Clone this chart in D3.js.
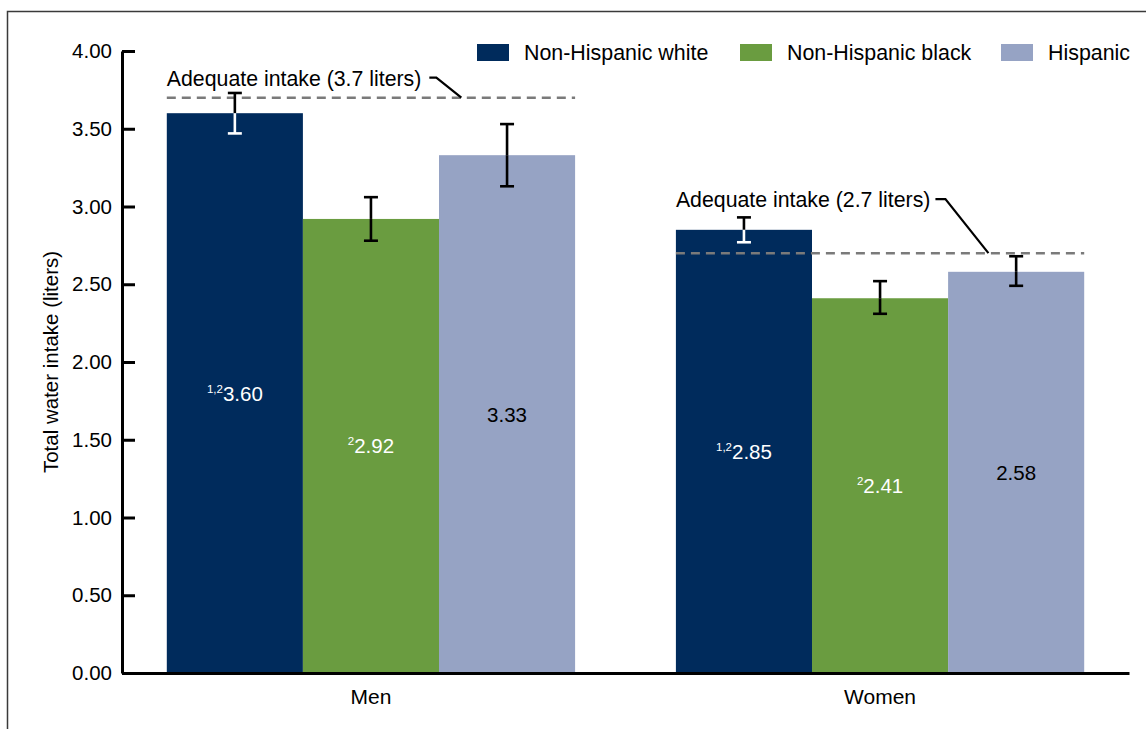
<!DOCTYPE html>
<html><head><meta charset="utf-8">
<script src="https://cdn.jsdelivr.net/npm/d3@7"></script>
<style>
html,body{margin:0;padding:0;background:#fff;}
svg text{font-family:"Liberation Sans",Arial,Helvetica,sans-serif;}
</style></head>
<body>
<svg id="chart" width="1146" height="729"></svg>
<script>
// ---- data ----
const groups = ["Men", "Women"];
const series = ["Non-Hispanic white", "Non-Hispanic black", "Hispanic"];
const menValues = [3.60, 2.92, 3.33];
const womenValues = [2.85, 2.41, 2.58];
const menLow = [3.47, 2.78, 3.13];
const menHigh = [3.73, 3.06, 3.53];
const womenLow = [2.77, 2.31, 2.49];
const womenHigh = [2.93, 2.52, 2.68];
const menNotes = ["1,2", "2", ""];
const womenNotes = ["1,2", "2", ""];
const adequateIntake = [3.7, 2.7];
const adequateLabels = ["Adequate intake (3.7 liters)", "Adequate intake (2.7 liters)"];
const yTicks = [0, 0.5, 1, 1.5, 2, 2.5, 3, 3.5, 4];
const yTitle = "Total water intake (liters)";

// ---- styles / layout ----
const colors = ["#002B5C", "#6A9C40", "#96A3C4"];
const labelColors = ["#fff", "#fff", "#000"];
const errInsideColors = ["#fff", "#000", "#000"];
const plot = {left: 122, right: 1129, top: 51, bottom: 673};
const annLayout = [{dy: -12, gap: 8, hor: 7, diagDx: 25}, {dy: -46, gap: 5, hor: 10, diagDx: 43}];
const legendX = [477, 740, 1001];
const FS = 20.5;
const FS_ANN = 21.3;
const FS_LEG = 21.4;

const valuesBy = [menValues, womenValues];
const lowBy = [menLow, womenLow];
const highBy = [menHigh, womenHigh];
const notesBy = [menNotes, womenNotes];

const rows = [];
groups.forEach((g, gi) => series.forEach((s, si) => rows.push({
  g, gi, s, si, v: valuesBy[gi][si], lo: lowBy[gi][si], hi: highBy[gi][si], note: notesBy[gi][si]
})));

const svg = d3.select("#chart");

// border
svg.append("rect").attr("x", 7.5).attr("y", 11.5).attr("width", 1160).attr("height", 740)
  .attr("fill", "none").attr("stroke", "#3a3a3a").attr("stroke-width", 1.5);

const y = d3.scaleLinear().domain([0, 4]).range([plot.bottom, plot.top]);
const x0 = d3.scaleBand().domain(groups).range([plot.left, plot.right]).paddingInner(0.198).paddingOuter(0.088);
const x1 = d3.scaleBand().domain(series).range([0, x0.bandwidth()]).padding(0);

// bars
svg.append("g").selectAll("rect").data(rows).join("rect")
  .attr("x", d => x0(d.g) + x1(d.s))
  .attr("y", d => y(d.v))
  .attr("width", x1.bandwidth())
  .attr("height", d => y(0) - y(d.v))
  .attr("fill", d => colors[d.si]);

// adequate intake dashed lines
groups.forEach((g, gi) => {
  const yy = y(adequateIntake[gi]);
  svg.append("line").attr("x1", x0(g)).attr("x2", x0(g) + x0.bandwidth())
    .attr("y1", yy).attr("y2", yy)
    .attr("stroke", "#7a7a7a").attr("stroke-width", 2.5).attr("stroke-dasharray", "9,6");
});

// error bars
const capW = 14;
const eb = svg.append("g");
rows.forEach(d => {
  const cx = x0(d.g) + x1(d.s) + x1.bandwidth() / 2;
  const yTop = y(d.hi), yLo = y(d.lo), yBar = y(d.v);
  const inside = errInsideColors[d.si];
  eb.append("line").attr("x1", cx).attr("x2", cx).attr("y1", yTop).attr("y2", Math.min(yBar, yLo))
    .attr("stroke", "#000").attr("stroke-width", 2.6);
  eb.append("line").attr("x1", cx).attr("x2", cx).attr("y1", Math.max(yTop, yBar)).attr("y2", yLo)
    .attr("stroke", inside).attr("stroke-width", 2.6);
  eb.append("line").attr("x1", cx - capW / 2).attr("x2", cx + capW / 2).attr("y1", yTop).attr("y2", yTop)
    .attr("stroke", yTop < yBar ? "#000" : inside).attr("stroke-width", 2.6);
  eb.append("line").attr("x1", cx - capW / 2).attr("x2", cx + capW / 2).attr("y1", yLo).attr("y2", yLo)
    .attr("stroke", yLo < yBar ? "#000" : inside).attr("stroke-width", 2.6);
});

// value labels
const lab = svg.append("g").selectAll("text").data(rows).join("text")
  .attr("x", d => x0(d.g) + x1(d.s) + x1.bandwidth() / 2)
  .attr("y", d => (y(d.v) + y(0)) / 2 + 7.5)
  .attr("text-anchor", "middle")
  .attr("font-size", FS)
  .attr("fill", d => labelColors[d.si]);
lab.each(function(d) {
  const t = d3.select(this);
  if (d.note) {
    t.append("tspan").attr("font-size", 11.5).attr("dy", -8).text(d.note);
    t.append("tspan").attr("dy", 8).text(d.v.toFixed(2));
  } else {
    t.text(d.v.toFixed(2));
  }
});

// annotations
groups.forEach((g, gi) => {
  const yy = y(adequateIntake[gi]);
  const L = annLayout[gi];
  const tx = x0(g);
  const ty = yy + L.dy;
  const t = svg.append("text").attr("x", tx).attr("y", ty).attr("font-size", FS_ANN).attr("fill", "#000")
    .text(adequateLabels[gi]);
  const endX = tx + t.node().getComputedTextLength();
  const ly = ty - 8;
  const p = d3.path();
  p.moveTo(endX + L.gap, ly);
  p.lineTo(endX + L.gap + L.hor, ly);
  p.lineTo(endX + L.gap + L.hor + L.diagDx, yy);
  svg.append("path").attr("d", p.toString()).attr("fill", "none").attr("stroke", "#000").attr("stroke-width", 2.2);
});

// y axis
const yAxis = d3.axisLeft(y).tickValues(yTicks).tickFormat(d3.format(".2f"))
  .tickSizeInner(-13).tickSizeOuter(0).tickPadding(10);
const gy = svg.append("g").attr("transform", `translate(${plot.left},0)`).call(yAxis);
gy.selectAll("path.domain").attr("stroke", "#000").attr("stroke-width", 3);
gy.selectAll(".tick line").attr("stroke", "#000").attr("stroke-width", 3);
gy.selectAll(".tick text").attr("font-size", FS).attr("fill", "#000")
  .attr("font-family", "'Liberation Sans',Arial,sans-serif");

// x axis
const xAxis = d3.axisBottom(x0).tickSize(0).tickSizeOuter(0).tickPadding(16);
const gx = svg.append("g").attr("transform", `translate(0,${plot.bottom})`).call(xAxis);
gx.selectAll("path.domain").attr("stroke", "#000").attr("stroke-width", 3);
gx.selectAll(".tick text").attr("font-size", 21).attr("fill", "#000")
  .attr("font-family", "'Liberation Sans',Arial,sans-serif");

// y title
svg.append("text").attr("transform", `translate(58,${(plot.top + plot.bottom) / 2}) rotate(-90)`)
  .attr("text-anchor", "middle").attr("font-size", FS).attr("fill", "#000").text(yTitle);

// legend
const lg = svg.append("g");
series.forEach((s, si) => {
  lg.append("rect").attr("x", legendX[si]).attr("y", 44).attr("width", 32).attr("height", 17).attr("fill", colors[si]);
  lg.append("text").attr("x", legendX[si] + 47).attr("y", 60).attr("font-size", FS_LEG).attr("fill", "#000").text(s);
});
</script>
</body></html>
